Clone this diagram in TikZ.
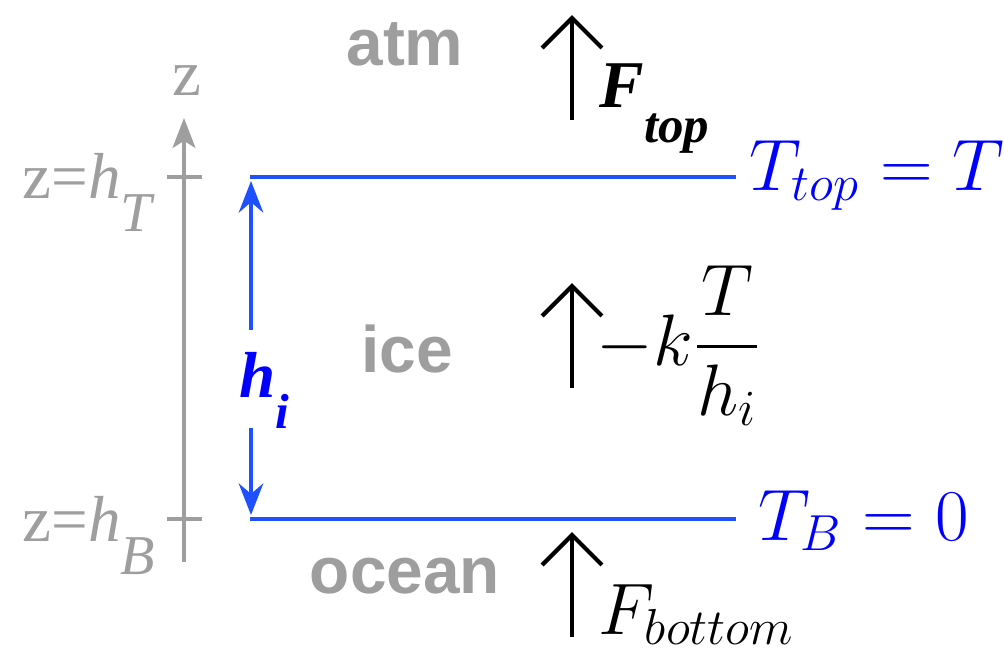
\documentclass[tikz,border=0pt]{standalone}
\usepackage{fontspec}
\newfontfamily\sanslabel{Liberation Sans}
\newfontfamily\seriflabel{Liberation Serif}
\usepackage{amsmath}
\usetikzlibrary{arrows.meta,positioning}
\definecolor{axisgray}{RGB}{158,158,158}
\definecolor{layerblue}{RGB}{30,80,255}
\definecolor{labelblue}{RGB}{0,0,255}

\begin{document}
\begin{tikzpicture}[
  x=0.01cm, y=-0.01cm,
  region/.style={inner sep=0pt, anchor=base, text=axisgray, font=\sanslabel\bfseries\fontsize{18.7}{20}\selectfont},
  zlabel/.style={inner sep=0pt, anchor=base west, text=axisgray, font=\seriflabel\fontsize{18.5}{20}\selectfont},
  mathlabel/.style={inner sep=0pt, anchor=base west, font=\fontsize{21}{24}\selectfont},
  axis/.style={draw=axisgray, line width=0.9pt},
  layer/.style={draw=layerblue, line width=0.9pt},
  span/.style={draw=layerblue, line width=0.9pt, -{Stealth[length=9pt, width=7pt, inset=3pt]}},
  flux/.style={line width=1.2pt, -{Straight Barb[length=8.5pt, width=17pt, line width=1.2pt]}}
]
  \useasboundingbox (0,0) rectangle (1004,653);

  % vertical axis
  \coordinate (zbot) at (184,562);
  \coordinate (ztop) at (184,118);
  \draw[axis, -{Stealth[length=8.5pt, width=6.5pt, inset=2pt]}] (zbot) -- (ztop);
  \node[zlabel, anchor=base] (zname) at (187,95) {z};
  \coordinate (tickTl) at (167,177);
  \coordinate (tickTr) at (202,177);
  \coordinate (tickBl) at (167,519);
  \coordinate (tickBr) at (202,519);
  \draw[axis] (tickTl) -- (tickTr);
  \draw[axis] (tickBl) -- (tickBr);
  \node[zlabel] (hT) at (22,198) {z=\textit{h}\raisebox{-9.5pt}{\fontsize{16}{17}\selectfont\textit{T}}};
  \node[zlabel] (hB) at (22,541) {z=\textit{h}\raisebox{-9.5pt}{\fontsize{16}{17}\selectfont\textit{B}}};

  % ice layer
  \coordinate (topL) at (250,177);
  \coordinate (topR) at (736,177);
  \coordinate (botL) at (250,519);
  \coordinate (botR) at (736,519);
  \draw[layer] (topL) -- (topR);
  \draw[layer] (botL) -- (botR);
  \node[mathlabel, text=labelblue] (Ttop) at (749,190) {$T_{top}=T$};
  \node[mathlabel, text=labelblue] (TB) at (758,540) {$T_B=0$};

  % thickness
  \node[inner sep=0pt, anchor=base west, text=labelblue, font=\seriflabel\bfseries\itshape\fontsize{18.5}{20}\selectfont]
    (hi) at (239,397) {h\raisebox{-9pt}{\fontsize{14}{15}\selectfont i}};
  \coordinate (gapT) at (251,330);
  \coordinate (gapB) at (251,428);
  \coordinate (hiTop) at (251,181);
  \coordinate (hiBot) at (251,515);
  \draw[span] (gapT) -- (hiTop);
  \draw[span] (gapB) -- (hiBot);

  % regions
  \node[region] (atm) at (405,65) {atm};
  \node[region] (ice) at (407,372) {ice};
  \node[region] (ocean) at (405,593) {ocean};

  % fluxes
  \coordinate (ftopS) at (572,120);
  \coordinate (ftopE) at (572,15);
  \coordinate (ficeS) at (572,388);
  \coordinate (ficeE) at (572,283);
  \coordinate (fbotS) at (572,637);
  \coordinate (fbotE) at (572,532);
  \draw[flux] (ftopS) -- (ftopE);
  \draw[flux] (ficeS) -- (ficeE);
  \draw[flux] (fbotS) -- (fbotE);
  \node[inner sep=0pt, anchor=base west, font=\seriflabel\bfseries\itshape\fontsize{19}{20}\selectfont]
    (Ftop) at (599,107) {F\raisebox{-10pt}{\fontsize{14.5}{15}\selectfont top}};
  \node[mathlabel] (Fice) at (596,365) {$-k\dfrac{T}{h_i}$};
  \node[mathlabel] (Fbot) at (598,634) {$F_{bottom}$};
\end{tikzpicture}
\end{document}
